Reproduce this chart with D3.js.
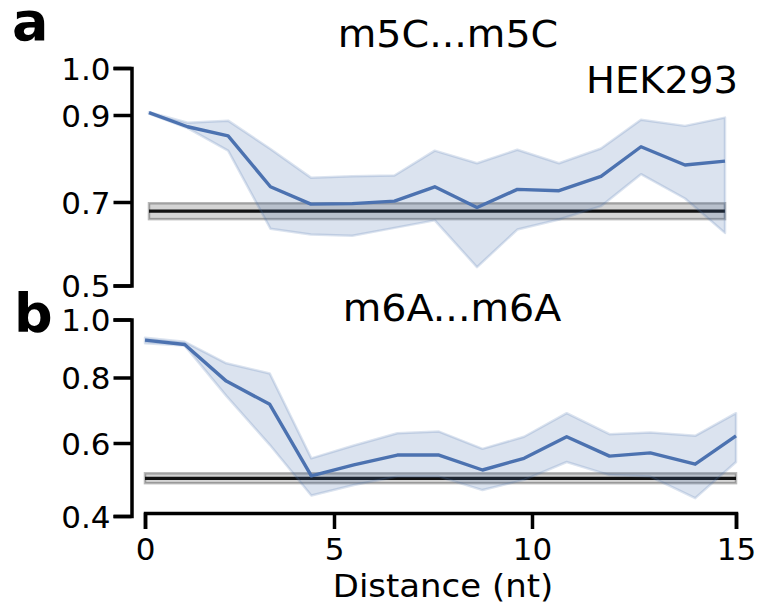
<!DOCTYPE html>
<html>
<head>
<meta charset="utf-8">
<script src="https://cdn.jsdelivr.net/npm/d3@7"></script>
<style>
  html, body { margin: 0; padding: 0; background: #fff; }
  svg { display: block; font-family: "DejaVu Sans", sans-serif; }
  .axis path, .axis line { stroke: #000; stroke-width: 3.5px; }
  .axis text { fill: #000; font-size: 31px; font-family: "DejaVu Sans", sans-serif; }
</style>
</head>
<body>
<svg id="chart" width="759" height="605"></svg>
<script>
// Distance from the first modified site (nt)
const distance = [0, 1.05, 2.15, 3.3, 4.4, 5.5, 6.6, 7.65, 8.75, 9.8, 10.85, 11.9, 12.9, 14.0, 15.0];

// m5C...m5C pairs: mean and confidence band
const m5cMean  = [0.905, 0.873, 0.852, 0.735, 0.695, 0.696, 0.702, 0.735, 0.687, 0.729, 0.726, 0.759, 0.827, 0.785, 0.794];
const m5cUpper = [0.906, 0.882, 0.887, 0.822, 0.756, 0.759, 0.761, 0.818, 0.789, 0.820, 0.789, 0.823, 0.889, 0.875, 0.894];
const m5cLower = [0.903, 0.870, 0.818, 0.636, 0.622, 0.619, 0.638, 0.656, 0.544, 0.634, 0.658, 0.690, 0.764, 0.708, 0.626];

// m6A...m6A pairs: mean and confidence band
const m6aMean  = [0.929, 0.914, 0.789, 0.718, 0.510, 0.540, 0.567, 0.567, 0.526, 0.558, 0.619, 0.564, 0.573, 0.542, 0.622];
const m6aUpper = [0.937, 0.923, 0.849, 0.814, 0.558, 0.593, 0.630, 0.635, 0.584, 0.619, 0.691, 0.627, 0.632, 0.622, 0.691];
const m6aLower = [0.918, 0.910, 0.744, 0.595, 0.456, 0.485, 0.508, 0.508, 0.471, 0.499, 0.548, 0.512, 0.508, 0.449, 0.548];

// Background level (mean, low, high)
const m5cBackground = [0.678, 0.659, 0.697];
const m6aBackground = [0.503, 0.490, 0.517];

// Axis ticks
const xTicks = [0, 5, 10, 15];
const yTicksA = [0.5, 0.7, 0.9, 1.0];
const yTicksB = [0.4, 0.6, 0.8, 1.0];

const svg = d3.select("#chart");
const blue = "#4c72b0";

// Text helper: anchored label with a slight horizontal widening
function label(x, y, str, size, anchor, sx, weight) {
  svg.append("text")
    .attr("transform", `translate(${x},${y}) scale(${sx},1)`)
    .attr("text-anchor", anchor)
    .attr("font-size", size)
    .attr("font-weight", weight || "normal")
    .text(str);
}

const panels = [
  {
    letter: "a", title: "m5C...m5C", cell: "HEK293",
    mean: m5cMean, upper: m5cUpper, lower: m5cLower, bg: m5cBackground,
    x: d3.scaleLinear().domain([0, 5, 10, 15]).range([149, 333, 525, 725]),
    y: d3.scaleLinear().domain([0.5, 0.7, 0.9, 1.0]).range([285.5, 202, 115, 68]),
    yTicks: yTicksA, showX: false,
    letterPos: [12, 40], titlePos: [448, 47]
  },
  {
    letter: "b", title: "m6A...m6A", cell: null,
    mean: m6aMean, upper: m6aUpper, lower: m6aLower, bg: m6aBackground,
    x: d3.scaleLinear().domain([0, 5, 10, 15]).range([145, 334, 532, 736]),
    y: d3.scaleLinear().domain([0.4, 0.6, 0.8, 1.0]).range([516, 443, 377.5, 319.5]),
    yTicks: yTicksB, showX: true,
    letterPos: [14, 332], titlePos: [452, 321]
  }
];

panels.forEach(p => {
  const g = svg.append("g");
  const pts = distance.map((d, i) => ({ d, m: p.mean[i], lo: p.lower[i], hi: p.upper[i] }));

  // Background band and line spanning the full distance range
  const span = d3.extent(distance);
  g.append("rect")
    .attr("x", p.x(span[0]))
    .attr("width", p.x(span[1]) - p.x(span[0]))
    .attr("y", p.y(p.bg[2]))
    .attr("height", p.y(p.bg[1]) - p.y(p.bg[2]))
    .attr("fill", "rgba(0,0,0,0.17)")
    .attr("stroke", "rgba(0,0,0,0.28)")
    .attr("stroke-width", 2.5);
  g.append("line")
    .attr("x1", p.x(span[0])).attr("x2", p.x(span[1]))
    .attr("y1", p.y(p.bg[0])).attr("y2", p.y(p.bg[0]))
    .attr("stroke", "#111").attr("stroke-width", 3.2);

  // Confidence band
  const area = d3.area()
    .x(d => p.x(d.d))
    .y0(d => p.y(d.lo))
    .y1(d => p.y(d.hi));
  g.append("path")
    .attr("d", area(pts))
    .attr("fill", "rgba(76,114,176,0.2)")
    .attr("stroke", "rgba(76,114,176,0.2)")
    .attr("stroke-width", 2.5)
    .attr("stroke-linejoin", "round");

  // Mean line
  const line = d3.line().x(d => p.x(d.d)).y(d => p.y(d.m));
  g.append("path")
    .attr("d", line(pts))
    .attr("fill", "none")
    .attr("stroke", blue)
    .attr("stroke-width", 3.4)
    .attr("stroke-linejoin", "round");

  // Left axis
  const yAxis = d3.axisLeft(p.y)
    .tickValues(p.yTicks)
    .tickFormat(d3.format(".1f"))
    .tickSize(18)
    .tickSizeOuter(18)
    .tickPadding(3);
  g.append("g")
    .attr("class", "axis")
    .attr("transform", "translate(131.5,0)")
    .call(yAxis)
    .call(a => a.selectAll("text").attr("dy", "0.36em"));

  if (p.showX) {
    const xAxis = d3.axisBottom(p.x)
      .tickValues(xTicks)
      .tickFormat(d3.format("d"))
      .tickSize(16)
      .tickSizeOuter(16)
      .tickPadding(9);
    g.append("g")
      .attr("class", "axis")
      .attr("transform", "translate(0,513)")
      .call(xAxis);
    label(443, 597, "Distance (nt)", 32, "middle", 1.06);
  }

  // Titles and labels
  label(p.titlePos[0], p.titlePos[1], p.title, 37, "middle", 1.07);
  if (p.cell) label(738, 93, p.cell, 37, "end", 1.04);
  label(p.letterPos[0], p.letterPos[1], p.letter, 54, "start", 1, "bold");
});
</script>
</body>
</html>
